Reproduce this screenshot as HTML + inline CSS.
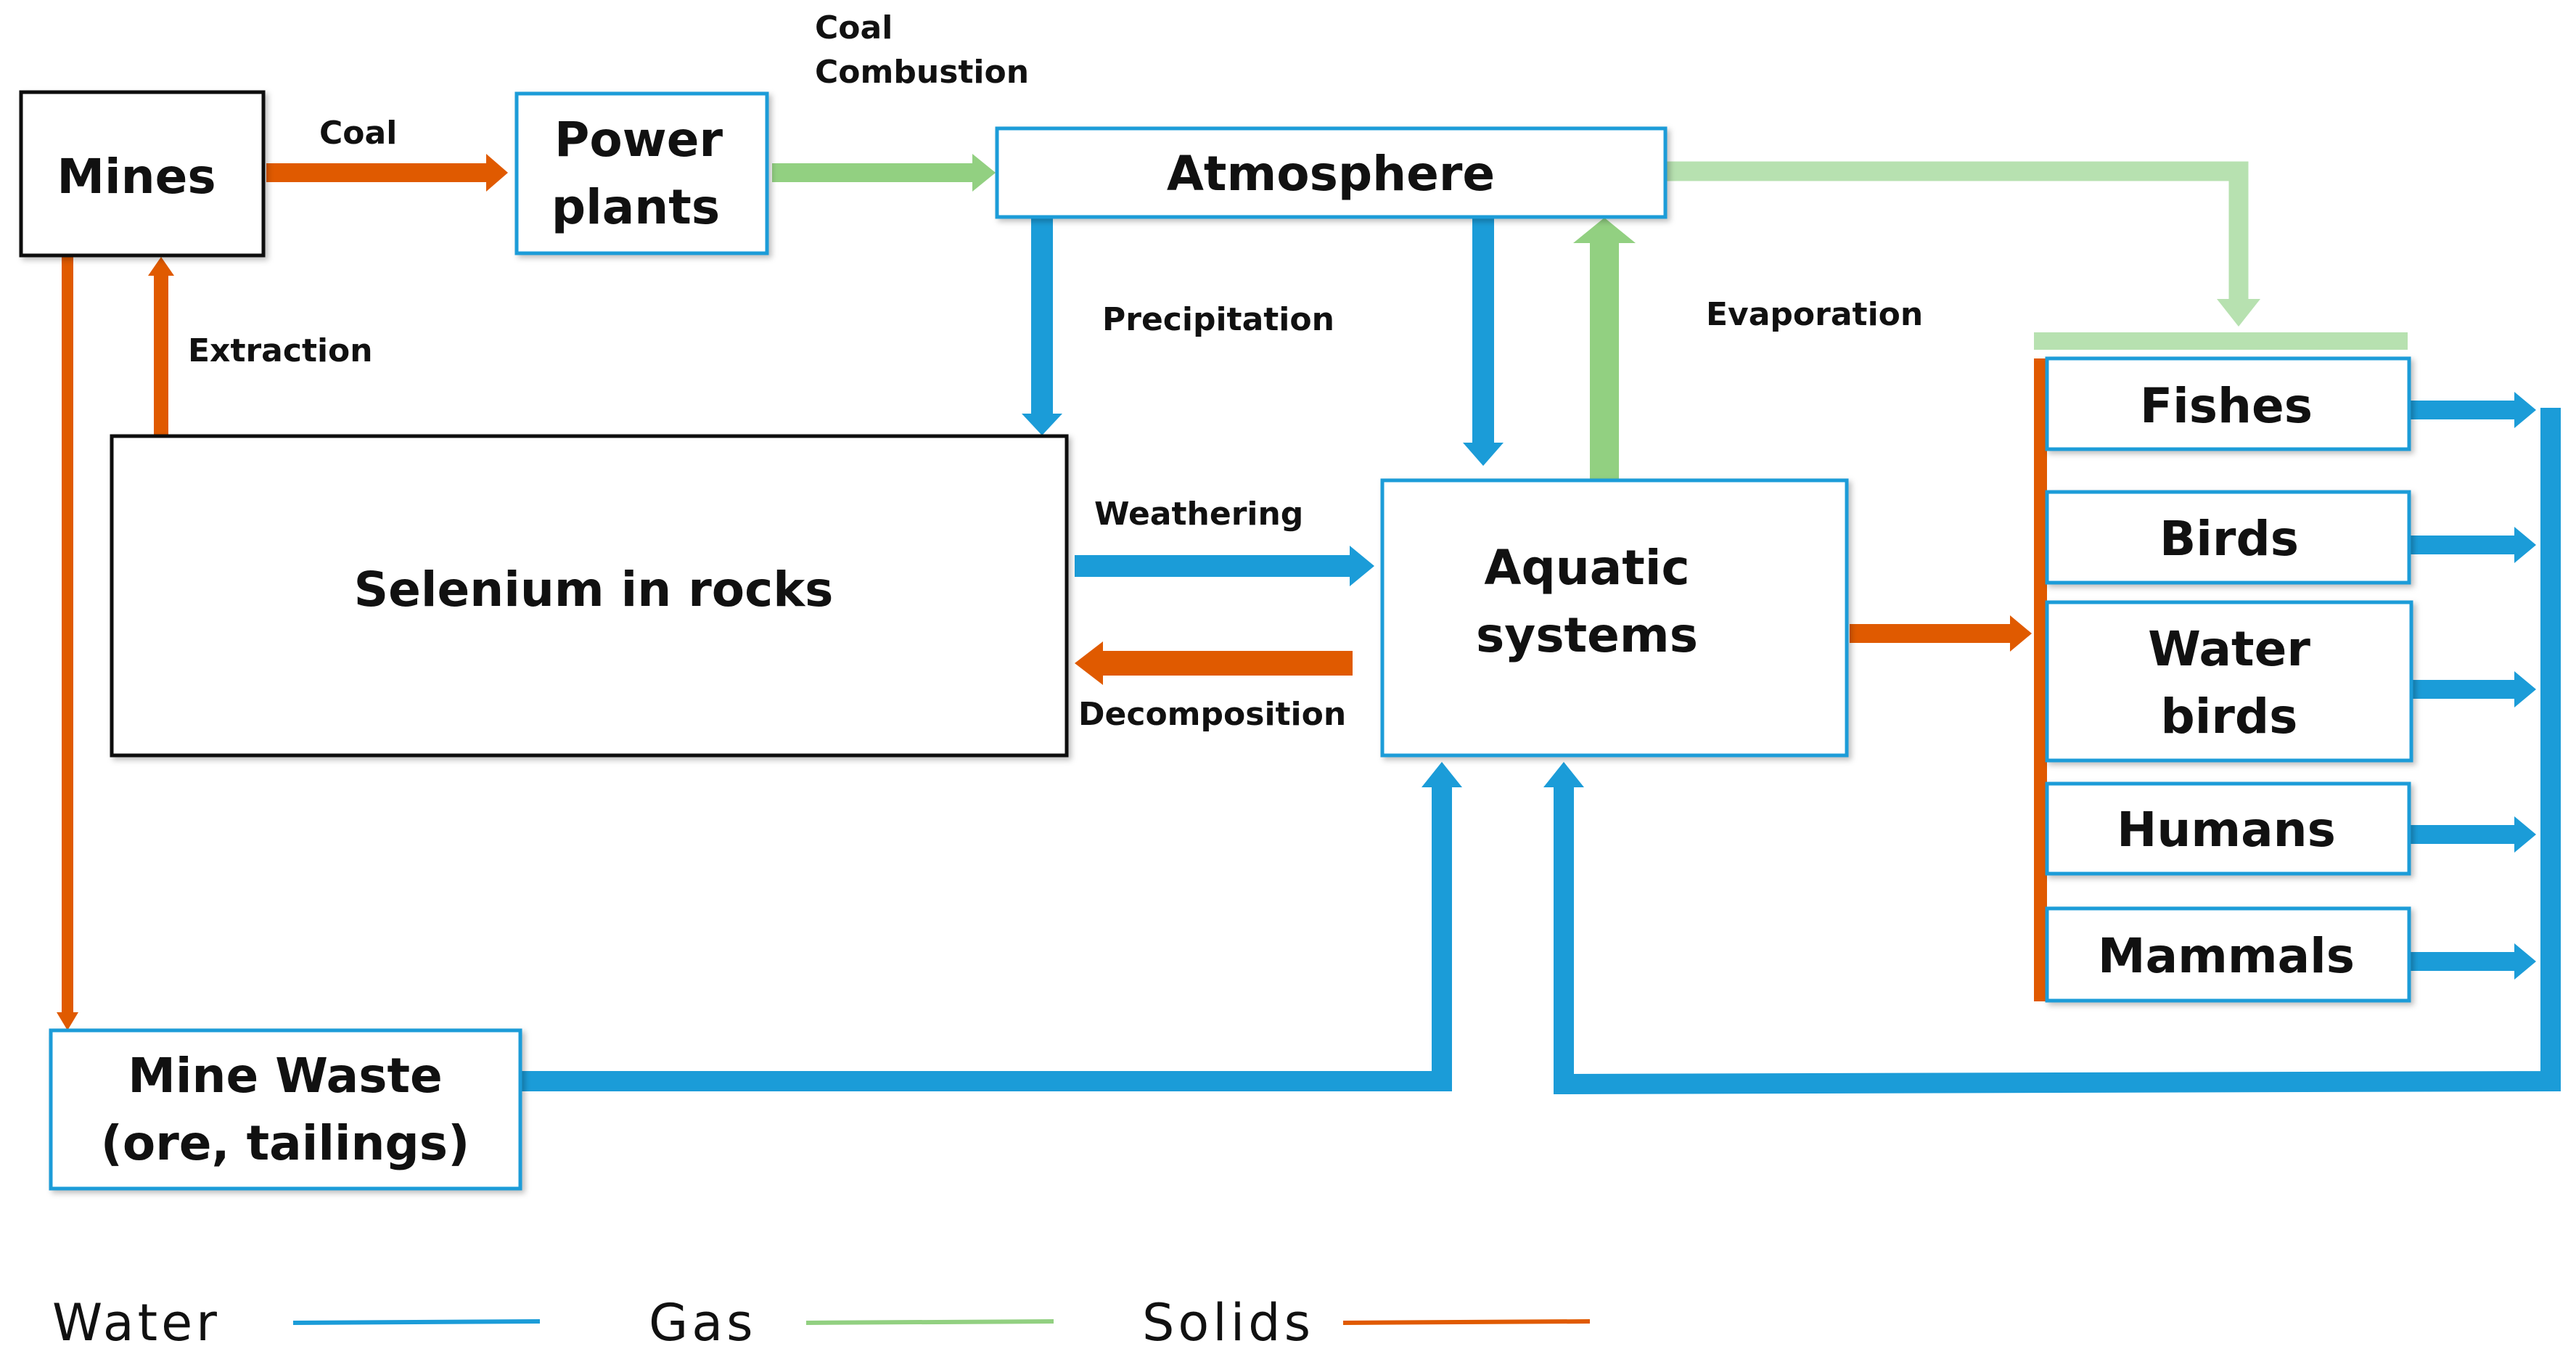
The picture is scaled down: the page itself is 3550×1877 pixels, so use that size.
<!DOCTYPE html>
<html><head><meta charset="utf-8"><style>
html,body{margin:0;padding:0;background:#fff;}
svg{display:block;}
text{font-family:"DejaVu Sans","Liberation Sans",sans-serif;fill:#111;}
</style></head><body>
<svg width="3550" height="1877" viewBox="0 0 3550 1877" xmlns="http://www.w3.org/2000/svg">
<defs>
<filter id="sh" x="-5%" y="-5%" width="115%" height="115%"><feDropShadow dx="4" dy="4" stdDeviation="4" flood-color="#000" flood-opacity="0.25"/></filter>
</defs>
<g fill="none" stroke-linejoin="miter">
<line x1="93" y1="352" x2="93" y2="1400" stroke="#E05A00" stroke-width="16"/>
<polygon points="78,1395 108,1395 93,1420" fill="#E05A00"/>
<line x1="222" y1="601" x2="222" y2="375" stroke="#E05A00" stroke-width="20"/>
<polygon points="204,380 240,380 222,354" fill="#E05A00"/>
<line x1="367" y1="238" x2="675" y2="238" stroke="#E05A00" stroke-width="26"/>
<polygon points="670,212 670,264 700,238" fill="#E05A00"/>
<line x1="1064" y1="238" x2="1345" y2="238" stroke="#92D081" stroke-width="26"/>
<polygon points="1340,212 1340,264 1372,238" fill="#92D081"/>
<line x1="1436" y1="299" x2="1436" y2="575" stroke="#1B9CD8" stroke-width="30"/>
<polygon points="1408,570 1464,570 1436,600" fill="#1B9CD8"/>
<line x1="2044" y1="299" x2="2044" y2="615" stroke="#1B9CD8" stroke-width="30"/>
<polygon points="2016,610 2072,610 2044,642" fill="#1B9CD8"/>
<line x1="2211" y1="660" x2="2211" y2="330" stroke="#92D081" stroke-width="40"/>
<polygon points="2168,335 2254,335 2211,300" fill="#92D081"/>
<polyline points="2295,236 3085,236 3085,420" stroke="#B7E1B0" stroke-width="27"/>
<polygon points="3055,412 3115,412 3085,450" fill="#B7E1B0"/>
<rect x="2803" y="458" width="515" height="24" fill="#B7E1B0"/>
<line x1="1481" y1="780" x2="1865" y2="780" stroke="#1B9CD8" stroke-width="30"/>
<polygon points="1860,752 1860,808 1894,780" fill="#1B9CD8"/>
<line x1="1864" y1="914" x2="1515" y2="914" stroke="#E05A00" stroke-width="34"/>
<polygon points="1520,884 1520,944 1481,914" fill="#E05A00"/>
<line x1="2549" y1="873" x2="2775" y2="873" stroke="#E05A00" stroke-width="26"/>
<polygon points="2770,848 2770,898 2800,873" fill="#E05A00"/>
<rect x="2803" y="494" width="18" height="886" fill="#E05A00"/>
<g stroke="#1B9CD8" stroke-width="26">
<line x1="3320" y1="565" x2="3470" y2="565"/>
<line x1="3320" y1="751" x2="3470" y2="751"/>
<line x1="3320" y1="950" x2="3470" y2="950"/>
<line x1="3320" y1="1150" x2="3470" y2="1150"/>
<line x1="3320" y1="1325" x2="3470" y2="1325"/>
</g>
<g fill="#1B9CD8">
<polygon points="3465,540 3465,590 3495,565"/>
<polygon points="3465,726 3465,776 3495,751"/>
<polygon points="3465,925 3465,975 3495,950"/>
<polygon points="3465,1125 3465,1175 3495,1150"/>
<polygon points="3465,1300 3465,1350 3495,1325"/>
</g>
<polyline points="3515,562 3515,1490 2155,1494 2155,1080" stroke="#1B9CD8" stroke-width="28"/>
<polygon points="2127,1085 2183,1085 2155,1050" fill="#1B9CD8"/>
<polyline points="717,1490 1987,1490 1987,1080" stroke="#1B9CD8" stroke-width="28"/>
<polygon points="1959,1085 2015,1085 1987,1050" fill="#1B9CD8"/>
</g>
<g filter="url(#sh)">
<rect x="29" y="127" width="334" height="225" fill="#fff" stroke="#111" stroke-width="5"/>
<rect x="712" y="129" width="345" height="220" fill="#fff" stroke="#1B9CD8" stroke-width="5"/>
<rect x="1374" y="177" width="921" height="122" fill="#fff" stroke="#1B9CD8" stroke-width="5"/>
<rect x="154" y="601" width="1316" height="440" fill="#fff" stroke="#111" stroke-width="5"/>
<rect x="1905" y="662" width="640" height="379" fill="#fff" stroke="#1B9CD8" stroke-width="5"/>
<rect x="70" y="1420" width="647" height="218" fill="#fff" stroke="#1B9CD8" stroke-width="5"/>
<rect x="2821" y="494" width="499" height="125" fill="#fff" stroke="#1B9CD8" stroke-width="5"/>
<rect x="2821" y="678" width="499" height="125" fill="#fff" stroke="#1B9CD8" stroke-width="5"/>
<rect x="2821" y="830" width="502" height="218" fill="#fff" stroke="#1B9CD8" stroke-width="5"/>
<rect x="2821" y="1080" width="499" height="124" fill="#fff" stroke="#1B9CD8" stroke-width="5"/>
<rect x="2821" y="1252" width="499" height="127" fill="#fff" stroke="#1B9CD8" stroke-width="5"/>
</g>
<g font-size="66" text-anchor="middle" font-weight="bold">
<text x="188" y="266">Mines</text>
<text x="880" y="215">Power</text>
<text x="876" y="308">plants</text>
<text x="1834" y="262">Atmosphere</text>
<text x="818" y="835">Selenium in rocks</text>
<text x="2187" y="805">Aquatic</text>
<text x="2187" y="898">systems</text>
<text x="393" y="1505">Mine Waste</text>
<text x="393" y="1598">(ore, tailings)</text>
<text x="3068" y="582">Fishes</text>
<text x="3072" y="765">Birds</text>
<text x="3072" y="917">Water</text>
<text x="3072" y="1010">birds</text>
<text x="3068" y="1166">Humans</text>
<text x="3068" y="1340">Mammals</text>
</g>
<g font-size="44" font-weight="bold">
<text x="440" y="198">Coal</text>
<text x="1123" y="53">Coal</text>
<text x="1123" y="114">Combustion</text>
<text x="259" y="498">Extraction</text>
<text x="1519" y="455">Precipitation</text>
<text x="2351" y="448">Evaporation</text>
<text x="1508" y="723">Weathering</text>
<text x="1486" y="999">Decomposition</text>
</g>
<g font-size="70" letter-spacing="5">
<text x="72" y="1847">Water</text>
<text x="894" y="1847">Gas</text>
<text x="1574" y="1847">Solids</text>
</g>
<line x1="404" y1="1823" x2="744" y2="1821" stroke="#1B9CD8" stroke-width="6"/>
<line x1="1111" y1="1823" x2="1452" y2="1821" stroke="#92D081" stroke-width="6"/>
<line x1="1851" y1="1823" x2="2191" y2="1821" stroke="#E05A00" stroke-width="6"/>
</svg>
</body></html>
